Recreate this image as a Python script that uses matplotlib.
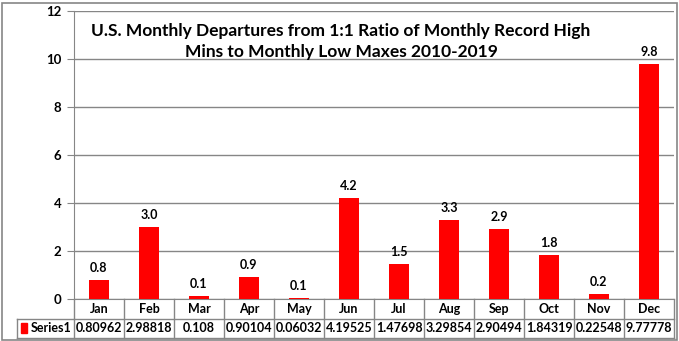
import matplotlib
matplotlib.use("Agg")
import matplotlib.pyplot as plt
from matplotlib.lines import Line2D
from matplotlib.patches import Rectangle

months = ["Jan", "Feb", "Mar", "Apr", "May", "Jun", "Jul", "Aug", "Sep", "Oct", "Nov", "Dec"]
series1 = [0.80962, 2.98818, 0.108, 0.90104, 0.06032, 4.19525,
           1.47698, 3.29854, 2.90494, 1.84319, 0.22548, 9.77778]
series_name = "Series1"
title = ("U.S. Monthly Departures from 1:1 Ratio of Monthly Record High\n"
         "Mins to Monthly Low Maxes 2010-2019")

plt.rcParams['font.family'] = ['Lato', 'DejaVu Sans']
grey = "#868686"
W, H = 679, 341

fig = plt.figure(figsize=(W / 100, H / 100), dpi=100)
# plot area in pixels: left 74, right 674, top 11, bottom 299
ax = fig.add_axes([74 / W, (H - 299) / H, 600 / W, 288 / H])

x = list(range(len(months)))
ax.bar(x, series1, width=0.4, color="#FF0000", zorder=3)
for xi, v in zip(x, series1):
    ax.annotate(f"{v:.1f}", (xi, v), xytext=(0, 6), textcoords="offset pixels",
                ha="center", va="bottom", fontsize=9, fontweight="bold")

ax.set_xlim(-0.5, 11.5)
ax.set_ylim(0, 12)
ax.set_yticks(range(0, 13, 2))
ax.set_xticks([])
ax.grid(axis="y", color=grey, linewidth=1, zorder=0)
for s in ["top", "right"]:
    ax.spines[s].set_visible(False)
ax.spines["left"].set_color(grey)
ax.spines["bottom"].set_color(grey)
ax.tick_params(axis="y", length=5, color=grey, labelsize=9.5, pad=4)
for lbl in ax.get_yticklabels():
    lbl.set_fontweight("bold")

ax.text(0.445, 0.893, title, transform=ax.transAxes, ha="center", va="center",
        fontsize=12.5, fontweight="bold", linespacing=1.4)

# data table below the axis
tr = ax.get_xaxis_transform()
row = 19.5 / 288
left_x = -0.5 - 57 / 50
lines = []
lines.append(([-0.5, 11.5], [-row, -row]))
lines.append(([left_x, 11.5], [-2 * row, -2 * row]))
lines.append(([left_x, -0.5], [-row, -row]))
lines.append(([left_x, left_x], [-row, -2 * row]))
for i in range(13):
    lines.append(([i - 0.5, i - 0.5], [0, -2 * row]))
for xs, ys in lines:
    ax.add_line(Line2D(xs, ys, transform=tr, color=grey, linewidth=1, clip_on=False))

for xi, m, v in zip(x, months, series1):
    ax.text(xi, -row / 2, m, transform=tr, ha="center", va="center",
            fontsize=9, fontweight="bold")
    ax.text(xi, -1.5 * row, f"{v:g}", transform=tr, ha="center", va="center",
            fontsize=9, fontweight="bold")

ax.add_patch(Rectangle((left_x + 0.07, -1.5 * row - 0.017), 0.13, 0.034,
                       transform=tr, color="#FF0000", clip_on=False))
ax.text(left_x + 0.27, -1.5 * row, series_name, transform=tr, ha="left",
        va="center", fontsize=9, fontweight="bold")

# outer border of the chart
fig.add_artist(Rectangle((1.5 / W, 1.5 / H), (W - 4) / W, (H - 4) / H,
                         transform=fig.transFigure, fill=False,
                         edgecolor=grey, linewidth=1.2))

fig.savefig("out.png", dpi=100)
